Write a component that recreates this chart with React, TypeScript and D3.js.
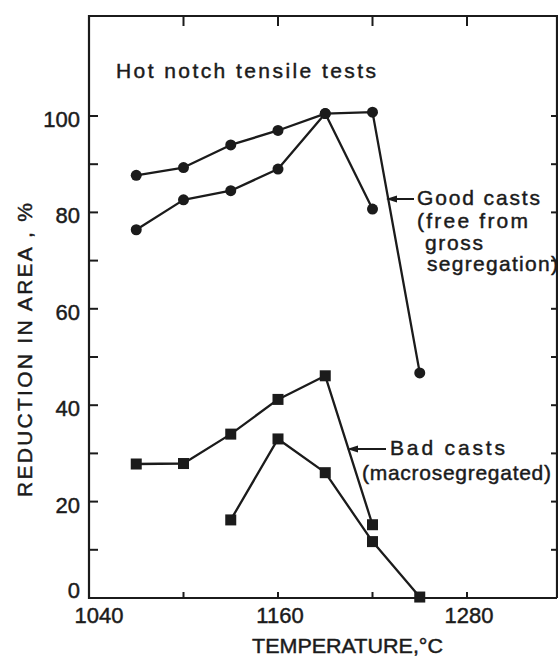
import React from "react";
import * as d3 from "d3";

// ---- data ----
const goodATemps = [1070, 1100, 1130, 1160, 1190, 1220, 1250];
const goodAValues = [87.7, 89.3, 94.0, 97.0, 100.5, 100.8, 46.7];
const goodBTemps = [1070, 1100, 1130, 1160, 1190, 1220];
const goodBValues = [76.4, 82.6, 84.5, 89.0, 100.5, 80.7];
const badATemps = [1070, 1100, 1130, 1160, 1190, 1220];
const badAValues = [27.8, 27.9, 34.0, 41.2, 46.1, 15.2];
const badBTemps = [1130, 1160, 1190, 1220, 1250];
const badBValues = [16.2, 33.0, 26.0, 11.7, 0.2];

const xTickLabels = [1040, 1160, 1280];
const xMinorTicks = [1100, 1160, 1220, 1280];
const yTickLabels = [0, 20, 40, 60, 80, 100];
const yMinorTicks = [10, 20, 30, 40, 50, 60, 70, 80, 90, 100];

const INK = "#1b1b1b";
const FONT = "'Liberation Sans', Arial, sans-serif";

export default function App() {
  const W = 558;
  const H = 659;
  const x = d3.scaleLinear().domain([1040, 1280]).range([89, 467]);
  const y = d3.scaleLinear().domain([0, 100]).range([598, 116]);
  const frameLeft = x(1040);
  const frameRight = 557;
  const frameTop = 16;
  const frameBottom = y(0);

  const line = d3
    .line<[number, number]>()
    .x((d) => x(d[0]))
    .y((d) => y(d[1]));

  const zip = (t: number[], v: number[]) =>
    t.map((tt, i) => [tt, v[i]] as [number, number]);

  const goodSeries = [zip(goodATemps, goodAValues), zip(goodBTemps, goodBValues)];
  const badSeries = [zip(badATemps, badAValues), zip(badBTemps, badBValues)];

  const txt = { fill: INK, stroke: INK, strokeWidth: 0.45 };

  const arrow = (x1: number, x2: number, yy: number) => (
    <g>
      <line x1={x1} x2={x2 + 6} y1={yy} y2={yy} stroke={INK} strokeWidth={2} />
      <path d={`M${x2},${yy} L${x2 + 11},${yy - 3.5} L${x2 + 11},${yy + 3.5} Z`} fill={INK} />
    </g>
  );

  return (
    <svg
      width={W}
      height={H}
      style={{ position: "absolute", left: 0, top: 0, background: "#fff" }}
      fontFamily={FONT}
    >
      <rect x={0} y={0} width={W} height={H} fill="#fff" />
      {/* frame */}
      <path
        d={`M${frameRight},${frameBottom} L${frameLeft},${frameBottom} L${frameLeft},${frameTop} L${frameRight},${frameTop} L${frameRight},${frameBottom}`}
        fill="none"
        stroke={INK}
        strokeWidth={2.2}
      />
      {/* bottom ticks */}
      {xMinorTicks.map((t) => (
        <line key={"bt" + t} x1={x(t)} x2={x(t)} y1={frameBottom} y2={frameBottom - 6} stroke={INK} strokeWidth={2} />
      ))}
      {/* top ticks */}
      {xMinorTicks.map((t) => (
        <line key={"tt" + t} x1={x(t)} x2={x(t)} y1={frameTop} y2={frameTop + 10} stroke={INK} strokeWidth={2} />
      ))}
      {/* left ticks */}
      {yMinorTicks.map((v) => (
        <line key={"lt" + v} x1={frameLeft} x2={frameLeft + 9} y1={y(v)} y2={y(v)} stroke={INK} strokeWidth={2} />
      ))}
      {/* right ticks */}
      {yMinorTicks.map((v) => (
        <line key={"rt" + v} x1={frameRight} x2={frameRight - 6} y1={y(v)} y2={y(v)} stroke={INK} strokeWidth={2} />
      ))}
      {/* x tick labels */}
      {xTickLabels.map((t, i) => (
        <text key={"xl" + t} x={x(t) + (i === 0 ? 10 : 2)} y={623} textAnchor="middle" fontSize={22} {...txt}>
          {t}
        </text>
      ))}
      {/* y tick labels */}
      {yTickLabels.map((v) => (
        <text key={"yl" + v} x={80} y={y(v) + (v === 0 ? 0 : 11)} textAnchor="end" fontSize={22} {...txt}>
          {v}
        </text>
      ))}
      {/* axis titles */}
      <text x={252} y={653} fontSize={21} {...txt} textLength={191} lengthAdjust="spacingAndGlyphs">
        TEMPERATURE,°C
      </text>
      <text
        transform={`translate(32,350) rotate(-90)`}
        textAnchor="middle"
        fontSize={21}
        {...txt}
        textLength={294}
        lengthAdjust="spacing"
      >
        REDUCTION IN AREA , %
      </text>
      {/* title */}
      <text x={116} y={78} fontSize={21} {...txt} textLength={260} lengthAdjust="spacing">
        Hot notch tensile tests
      </text>

      {/* series lines */}
      {goodSeries.concat(badSeries).map((s, i) => (
        <path key={"ln" + i} d={line(s) || ""} fill="none" stroke={INK} strokeWidth={2.3} strokeLinejoin="round" />
      ))}
      {/* markers */}
      {goodSeries.map((s, i) =>
        s.map((d, j) => <circle key={`gc${i}-${j}`} cx={x(d[0])} cy={y(d[1])} r={5.5} fill={INK} />)
      )}
      {badSeries.map((s, i) =>
        s.map((d, j) => (
          <rect key={`bs${i}-${j}`} x={x(d[0]) - 5.5} y={y(d[1]) - 5.5} width={11} height={11} fill={INK} />
        ))
      )}

      {/* annotations */}
      {arrow(414, 386, 199)}
      <text x={417} y={205} fontSize={21} {...txt} textLength={123} lengthAdjust="spacing">Good casts</text>
      <text x={417} y={228} fontSize={21} {...txt} textLength={111} lengthAdjust="spacing">(free from</text>
      <text x={425} y={250} fontSize={21} {...txt} textLength={58} lengthAdjust="spacing">gross</text>
      <text x={427} y={271} fontSize={21} {...txt} textLength={131} lengthAdjust="spacing">segregation)</text>

      {arrow(386, 347, 449)}
      <text x={390} y={455} fontSize={21} {...txt} textLength={115} lengthAdjust="spacing">Bad casts</text>
      <text x={362} y={480} fontSize={21} {...txt} textLength={189} lengthAdjust="spacing">(macrosegregated)</text>
    </svg>
  );
}
